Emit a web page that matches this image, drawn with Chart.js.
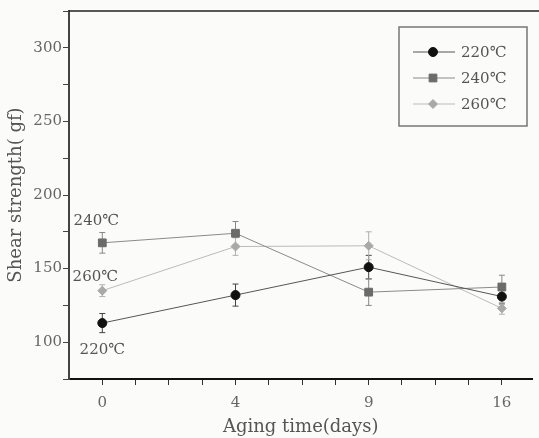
<!DOCTYPE html>
<html>
<head>
<meta charset="utf-8">
<script src="https://cdn.jsdelivr.net/npm/chart.js@4"></script>
<style>
  html, body { margin: 0; padding: 0; background: #fbfbf9; }
  #wrap { width: 539px; height: 438px; }
</style>
</head>
<body>
<div id="wrap"><canvas id="chartShear"></canvas></div>
<script>
// data
const days = ['0', '4', '9', '16'];
const temps = ['220℃', '240℃', '260℃'];
const s220 = [113, 132, 151, 131];
const s240 = [167.5, 174, 134, 137.5];
const s260 = [135, 165, 165.5, 123];
const err220 = [6.5, 7.5, 8, 5];
const err240 = [7, 8, 9, 8];
const err260 = [4, 6, 9.5, 4];
const yLabels = [100, 150, 200, 250, 300];

const serif = "'DejaVu Serif', 'Liberation Serif', serif";
const toPts = arr => arr.map((v, i) => ({ x: i, y: v }));

// vertical error bars, drawn under the markers
const errorBars = {
    id: 'errorBars',
    beforeDatasetsDraw(chart) {
        const ctx = chart.ctx;
        const yS = chart.scales.y;
        chart.data.datasets.forEach((ds, di) => {
            const meta = chart.getDatasetMeta(di);
            ctx.save();
            ctx.strokeStyle = ds.errColor;
            ctx.lineWidth = 1;
            meta.data.forEach((pt, i) => {
                const v = ds.data[i].y, e = ds.errors[i];
                const top = yS.getPixelForValue(v + e);
                const bot = yS.getPixelForValue(v - e);
                ctx.beginPath();
                ctx.moveTo(pt.x, top); ctx.lineTo(pt.x, bot);
                ctx.moveTo(pt.x - 3, top); ctx.lineTo(pt.x + 3, top);
                ctx.moveTo(pt.x - 3, bot); ctx.lineTo(pt.x + 3, bot);
                ctx.stroke();
            });
            ctx.restore();
        });
    }
};

// top frame line, boxed legend and the series names beside day 0
const decorations = {
    id: 'decorations',
    afterDraw(chart, args, opts) {
        const ctx = chart.ctx;
        const area = chart.chartArea;
        ctx.save();
        ctx.strokeStyle = '#222';
        ctx.lineWidth = 1.5;
        ctx.beginPath();
        ctx.moveTo(area.left, area.top); ctx.lineTo(chart.width, area.top);
        ctx.stroke();

        // legend box
        const b = opts.box;
        ctx.strokeStyle = '#777';
        ctx.lineWidth = 1.5;
        ctx.strokeRect(b.x, b.y, b.w, b.h);
        ctx.font = '15px ' + serif;
        ctx.textBaseline = 'middle';
        chart.data.datasets.forEach((ds, i) => {
            const y = b.y + 25 + i * 26;
            ctx.strokeStyle = ds.borderColor;
            ctx.lineWidth = 1;
            ctx.beginPath();
            ctx.moveTo(b.x + 14, y); ctx.lineTo(b.x + 56, y);
            ctx.stroke();
            ctx.fillStyle = ds.pointBackgroundColor;
            ctx.strokeStyle = ds.pointBackgroundColor;
            Chart.helpers.drawPoint(ctx, {
                pointStyle: ds.pointStyle, radius: ds.pointRadius, borderWidth: 1
            }, b.x + 34, y);
            ctx.fillStyle = '#555';
            ctx.textAlign = 'left';
            ctx.fillText(ds.label, b.x + 62, y + 1);
        });

        // names next to the first points
        const xS = chart.scales.x, yS = chart.scales.y;
        ctx.textAlign = 'center';
        ctx.fillStyle = '#555';
        chart.data.datasets.forEach((ds, i) => {
            const off = opts.nameOffsets[i];
            const x = xS.getPixelForValue(0) + off.dx;
            const y = yS.getPixelForValue(ds.data[0].y) + off.dy;
            ctx.fillText(ds.label, x, y);
        });
        ctx.restore();
    }
};

const cvs = document.getElementById('chartShear').getContext('2d');
const chartShear = new Chart(cvs, {
    type: 'line',
    data: {
        datasets: [{
            label: temps[0],
            data: toPts(s220),
            errors: err220,
            errColor: '#444',
            borderColor: '#555',
            borderWidth: 1,
            pointStyle: 'circle',
            pointRadius: 4.5,
            pointBackgroundColor: '#111',
            pointBorderColor: '#111'
        }, {
            label: temps[1],
            data: toPts(s240),
            errors: err240,
            errColor: '#888',
            borderColor: '#8a8a8a',
            borderWidth: 1,
            pointStyle: 'rect',
            pointRadius: 5.5,
            pointBackgroundColor: '#6b6b6b',
            pointBorderColor: '#6b6b6b'
        }, {
            label: temps[2],
            data: toPts(s260),
            errors: err260,
            errColor: '#b0b0b0',
            borderColor: '#bbb',
            borderWidth: 1,
            pointStyle: 'rectRot',
            pointRadius: 4.5,
            pointBackgroundColor: '#a9a9a9',
            pointBorderColor: '#a9a9a9'
        }]
    },
    plugins: [errorBars, decorations],
    options: {
        responsive: true,
        maintainAspectRatio: false,
        animation: false,
        layout: { padding: { top: 11, left: 0, right: 0, bottom: 0 } },
        scales: {
            x: {
                type: 'linear',
                min: -0.25,
                max: 3.23,
                afterBuildTicks: scale => {
                    const t = [];
                    for (let v = 0; v <= scale.max; v += 0.25) t.push({ value: v });
                    scale.ticks = t;
                },
                afterFit: scale => { scale.height = 59; },
                grid: { drawOnChartArea: false, drawTicks: true, tickLength: 6, color: '#333', lineWidth: 1 },
                border: { display: true, color: '#111', width: 2 },
                ticks: {
                    autoSkip: false,
                    maxRotation: 0,
                    padding: 9,
                    color: '#666',
                    font: { family: serif, size: 15 },
                    callback: v => Number.isInteger(v) && days[v] !== undefined ? days[v] : ''
                },
                title: {
                    display: true,
                    text: 'Aging time(days)',
                    color: '#555',
                    font: { family: serif, size: 18 },
                    padding: { top: 0, bottom: 0 }
                }
            },
            y: {
                min: 75,
                max: 325,
                afterFit: scale => { scale.width = 69; },
                grid: { drawOnChartArea: false, drawTicks: true, tickLength: 6, color: '#444', lineWidth: 1 },
                border: { display: true, color: '#444', width: 2 },
                ticks: {
                    stepSize: 25,
                    padding: 1,
                    color: '#666',
                    font: { family: serif, size: 15 },
                    callback: v => yLabels.includes(v) ? v : ''
                },
                title: {
                    display: true,
                    text: 'Shear strength( gf)',
                    color: '#555',
                    font: { family: serif, size: 18 },
                    padding: { top: 6, bottom: 0 }
                }
            }
        },
        plugins: {
            legend: { display: false },
            tooltip: { enabled: false },
            decorations: {
                box: { x: 399, y: 27, w: 128, h: 99 },
                nameOffsets: [{ dx: 0, dy: 27 }, { dx: -6, dy: -22 }, { dx: -7, dy: -14 }]
            }
        }
    }
});
</script>
</body>
</html>
